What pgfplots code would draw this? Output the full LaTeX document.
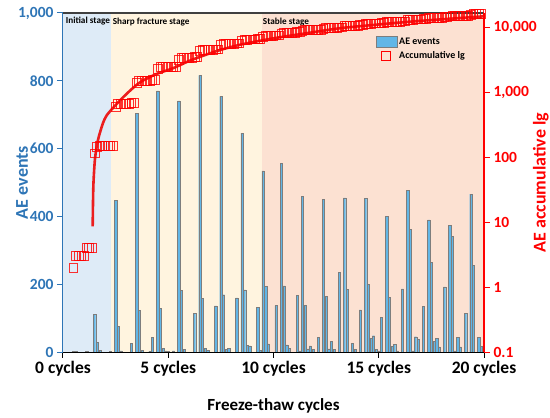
\documentclass[border=0pt]{standalone}
\usepackage{fontspec}
\setmainfont{Carlito}
\usepackage{pgfplots}
\usepackage{pgfplotstable}
\pgfplotsset{compat=1.18}
\definecolor{aeblue}{RGB}{46,117,182}
\definecolor{barfill}{RGB}{98,182,230}
\definecolor{baredge}{RGB}{125,125,125}
\definecolor{bginit}{RGB}{222,235,247}
\definecolor{bgsharp}{RGB}{255,244,223}
\definecolor{bgstable}{RGB}{252,225,210}
\definecolor{accred}{RGB}{255,0,0}
\definecolor{curvered}{RGB}{235,30,30}
\definecolor{topgray}{RGB}{64,64,64}

\pgfplotstableread{
x y
0.5 2
0.625 1
1.125 1
1.5 112
1.625 29
1.75 5
2.25 2
2.5 447
2.625 75
2.75 3
3.25 26
3.5 705
3.625 122
3.75 4
4.125 2
4.25 43
4.5 770
4.625 129
4.75 10
4.875 3
5 2
5.25 3
5.5 741
5.625 181
5.75 8
6.25 115
6.5 816
6.625 159
6.75 10
6.875 5
7.25 136
7.5 754
7.625 169
7.75 8
7.875 10
8.25 160
8.5 646
8.625 183
8.75 20
8.875 18
9.25 131
9.375 5
9.5 534
9.625 193
9.75 24
10.125 137
10.375 556
10.5 195
10.625 21
10.75 11
11.125 167
11.25 3
11.375 459
11.5 137
11.625 9
11.75 18
11.875 7
12.125 44
12.375 451
12.5 164
12.625 9
12.75 31
12.875 8
13.125 234
13.375 455
13.5 184
13.75 26
13.875 8
14.125 124
14.375 453
14.5 199
14.625 41
14.75 48
14.875 8
15 3
15.125 103
15.375 400
15.5 162
15.625 16
15.75 22
15.875 3
16.125 186
16.375 476
16.5 361
16.625 3
16.75 45
16.875 37
17.125 134
17.375 390
17.5 265
17.625 32
17.75 41
17.875 15
18.125 192
18.375 374
18.5 342
18.625 3
18.75 44
18.875 15
19.125 115
19.375 466
19.5 255
19.75 44
19.875 16
}\bars

\pgfplotstableread{
x y
0.5 2
0.625 3
0.75 3
0.875 3
1 3
1.125 4
1.25 4
1.375 4
1.5 116
1.625 145
1.75 150
1.875 150
2 150
2.125 150
2.25 152
2.375 152
2.5 599
2.625 674
2.75 677
2.875 677
3 677
3.125 677
3.25 703
3.375 703
3.5 1408
3.625 1530
3.75 1534
3.875 1534
4 1534
4.125 1536
4.25 1579
4.375 1579
4.5 2349
4.625 2478
4.75 2488
4.875 2491
5 2493
5.125 2493
5.25 2496
5.375 2496
5.5 3237
5.625 3418
5.75 3426
5.875 3426
6 3426
6.125 3426
6.25 3541
6.375 3541
6.5 4357
6.625 4516
6.75 4526
6.875 4531
7 4531
7.125 4531
7.25 4667
7.375 4667
7.5 5421
7.625 5590
7.75 5598
7.875 5608
8 5608
8.125 5608
8.25 5768
8.375 5768
8.5 6414
8.625 6597
8.75 6617
8.875 6635
9 6635
9.125 6635
9.25 6766
9.375 6771
9.5 7305
9.625 7498
9.75 7522
9.875 7522
10 7522
10.125 7659
10.25 7659
10.375 8215
10.5 8410
10.625 8431
10.75 8442
10.875 8442
11 8442
11.125 8609
11.25 8612
11.375 9071
11.5 9208
11.625 9217
11.75 9235
11.875 9242
12 9242
12.125 9286
12.25 9286
12.375 9737
12.5 9901
12.625 9910
12.75 9941
12.875 9949
13 9949
13.125 10183
13.25 10183
13.375 10638
13.5 10822
13.625 10822
13.75 10848
13.875 10856
14 10856
14.125 10980
14.25 10980
14.375 11433
14.5 11632
14.625 11673
14.75 11721
14.875 11729
15 11732
15.125 11835
15.25 11835
15.375 12235
15.5 12397
15.625 12413
15.75 12435
15.875 12438
16 12438
16.125 12624
16.25 12624
16.375 13100
16.5 13461
16.625 13464
16.75 13509
16.875 13546
17 13546
17.125 13680
17.25 13680
17.375 14070
17.5 14335
17.625 14367
17.75 14408
17.875 14423
18 14423
18.125 14615
18.25 14615
18.375 14989
18.5 15331
18.625 15334
18.75 15378
18.875 15393
19 15393
19.125 15508
19.25 15508
19.375 15974
19.5 16229
19.625 16229
19.75 16273
19.875 16289
}\cum

\begin{document}
\begin{tikzpicture}
\path[use as bounding box] (-63bp,-66bp) rectangle (487bp,352bp);
\begin{axis}[
  scale only axis, width=421bp, height=339bp,
  xmin=0, xmax=20, ymin=0, ymax=1000,
  axis x line*=bottom, axis y line*=left,
  x axis line style={black, line width=1bp, -},
  y axis line style={aeblue, line width=1bp, -},
  xtick={0,5,10,15,20},
  xticklabels={0 cycles,5 cycles,10 cycles,15 cycles,20 cycles},
  ytick={0,200,400,600,800,1000},
  yticklabels={0,200,400,600,800,{1,000}},
  tick align=outside, major tick length=6bp,
  xtick style={black, line width=1bp},
  ytick style={aeblue, line width=1bp},
  xticklabel style={font=\bfseries\fontsize{17.5bp}{20bp}\selectfont, black},
  yticklabel style={font=\bfseries\fontsize{15.5bp}{18bp}\selectfont, aeblue},
  xlabel={Freeze-thaw cycles},
  ylabel={AE events},
  xlabel style={font=\bfseries\fontsize{17bp}{20bp}\selectfont, black, at={(axis description cs:0.5,-0.158)}, anchor=center},
  ylabel style={font=\bfseries\fontsize{18bp}{20bp}\selectfont, aeblue, at={(axis description cs:-0.097,0.5)}, anchor=center},
]
\addplot[fill=bginit, draw=none, forget plot] coordinates {(0,0) (0,1000) (2.27,1000) (2.27,0)};
\addplot[fill=bgsharp, draw=none, forget plot] coordinates {(2.27,0) (2.27,1000) (9.44,1000) (9.44,0)};
\addplot[fill=bgstable, draw=none, forget plot] coordinates {(9.44,0) (9.44,1000) (20,1000) (20,0)};
\addplot[ybar, bar width=2.3bp, bar shift=0pt, fill=barfill, draw=baredge, line width=0.35bp, forget plot] table[x=x,y=y] {\bars};
\draw[topgray, line width=1.5bp] (rel axis cs:0,1) -- (rel axis cs:1,1);
\node[anchor=west, inner sep=0pt, font=\bfseries\fontsize{9.2bp}{11bp}\selectfont] at (axis cs:0.13,976) {Initial stage};
\node[anchor=west, inner sep=0pt, font=\bfseries\fontsize{9.2bp}{11bp}\selectfont] at (axis cs:2.36,974) {Sharp fracture stage};
\node[anchor=west, inner sep=0pt, font=\bfseries\fontsize{9.2bp}{11bp}\selectfont] at (axis cs:9.49,974) {Stable stage};
\end{axis}
\begin{axis}[
  scale only axis, width=421bp, height=339bp,
  xmin=0, xmax=20, ymode=log, ymin=0.1, ymax=17000,
  axis x line=none, axis y line*=right,
  y axis line style={accred, line width=1.3bp, -},
  ytick={0.1,1,10,100,1000,10000},
  yticklabels={0.1,1,10,100,{1,000},{10,000}},
  yminorticks=false,
  tick align=outside, major tick length=6bp,
  ytick style={accred, line width=1bp},
  yticklabel style={font=\bfseries\fontsize{15.5bp}{18bp}\selectfont, accred},
  ylabel={AE accumulative lg},
  ylabel style={font=\bfseries\fontsize{18bp}{20bp}\selectfont, accred, at={(axis description cs:1.135,0.5)}, anchor=center},
  legend style={at={(rel axis cs:0.735,0.94)}, anchor=north west, draw=none, fill=none,
    font=\bfseries\fontsize{10bp}{12bp}\selectfont, row sep=2bp},
  legend cell align=left,
]
\addlegendimage{legend image code/.code={\draw[fill=barfill, draw=baredge, line width=0.6bp] (0bp,-5.5bp) rectangle (21bp,5.5bp);}}
\addlegendentry{AE events}
\addplot[only marks, mark=square, mark size=4.4bp, mark options={draw=accred, line width=0.9bp, fill=none, draw opacity=0.8},
  legend image code/.code={\draw[accred, line width=1bp] (6bp,-4.5bp) rectangle (15bp,4.5bp);}] table[x=x,y=y] {\cum};
\addlegendentry{Accumulative lg}
\addplot[curvered, line width=2.6bp, smooth, tension=0.5, forget plot] coordinates {
(1.41,8.7) (1.44,35) (1.50,80) (1.55,115) (1.65,180) (1.76,245) (1.90,340) (2.07,445)
(2.47,630) (3.02,960) (3.66,1450) (4.45,1950) (5.24,2400) (6.0,3100) (6.83,3900)
(7.6,4700) (8.41,5500) (9.2,6200) (9.99,6900) (10.8,7600) (11.58,8300) (13.16,9900)
(14.6,11000) (16.5,12500) (18.3,13800) (19.97,15100)};
\end{axis}
\end{tikzpicture}
\end{document}
